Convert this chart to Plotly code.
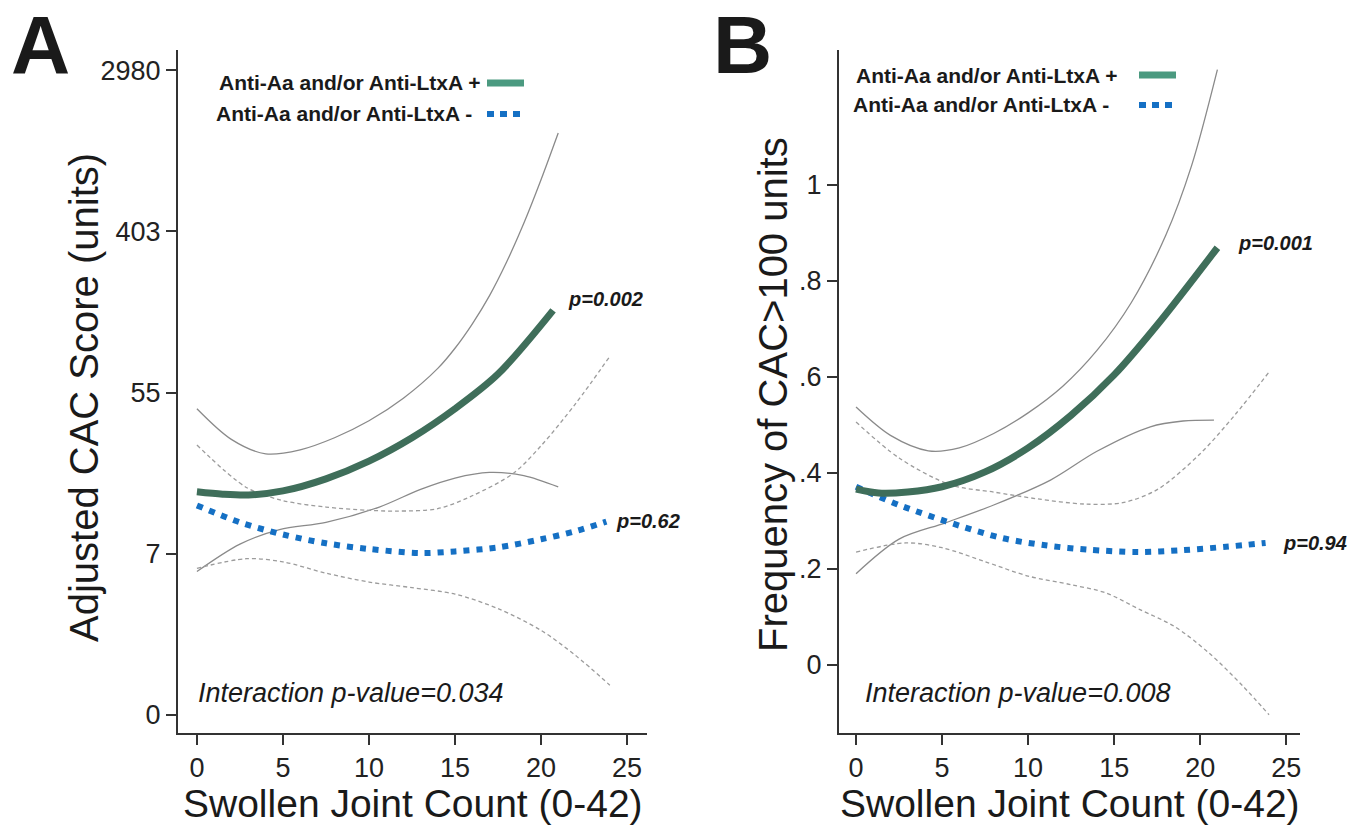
import plotly.graph_objects as go

# ---------------- data ----------------
# Panel A : ln(CAC+1) scale, tick labels in CAC units
a_pos_x = [0, 1.5, 3, 5, 7.5, 10, 12.5, 15, 17.5, 20.7]
a_pos_y = [2.77, 2.74, 2.73, 2.78, 2.93, 3.15, 3.44, 3.80, 4.23, 5.02]
a_pos_hi_x = [0, 2, 4, 6, 8, 10, 12, 14, 15, 16, 17, 18, 19, 20, 21]
a_pos_hi_y = [3.80, 3.42, 3.24, 3.29, 3.44, 3.65, 3.93, 4.30, 4.55, 4.85, 5.20, 5.62, 6.10, 6.64, 7.22]
a_pos_lo_x = [0, 2.5, 4.8, 7.5, 10.6, 13, 15, 17, 19, 21]
a_pos_lo_y = [1.78, 2.12, 2.30, 2.39, 2.58, 2.80, 2.94, 3.01, 2.97, 2.83]
a_neg_x = [0, 2.5, 5, 7.5, 10, 13, 15, 17.5, 20, 22, 23.8]
a_neg_y = [2.60, 2.39, 2.24, 2.13, 2.06, 2.01, 2.03, 2.08, 2.18, 2.28, 2.40]
a_neg_hi_x = [0, 2.9, 5, 7.5, 10, 11.6, 14, 16, 18.4, 20, 22, 24]
a_neg_hi_y = [3.35, 2.82, 2.66, 2.58, 2.54, 2.53, 2.56, 2.72, 3.00, 3.34, 3.86, 4.45]
a_neg_lo_x = [0, 2.9, 5, 7.5, 10, 12.5, 15, 17.5, 20, 22, 24]
a_neg_lo_y = [1.82, 1.94, 1.90, 1.76, 1.65, 1.58, 1.50, 1.32, 1.05, 0.74, 0.37]
a_tickvals = [0, 2, 4, 6, 8]
a_ticktext = ["0", "7", "55", "403", "2980"]

# Panel B : frequency of CAC>100
b_pos_x = [0, 1.3, 3, 5, 7.5, 10, 12.5, 15, 17.5, 21]
b_pos_y = [0.366, 0.358, 0.360, 0.371, 0.402, 0.452, 0.520, 0.604, 0.708, 0.869]
b_pos_hi_x = [0, 2, 4.2, 6, 8, 10, 12, 14, 16, 18, 19.5, 21]
b_pos_hi_y = [0.537, 0.478, 0.446, 0.452, 0.482, 0.525, 0.580, 0.655, 0.755, 0.895, 1.04, 1.24]
b_pos_lo_x = [0, 2.5, 5.2, 8, 11.3, 14, 17.1, 19, 20.8]
b_pos_lo_y = [0.190, 0.262, 0.296, 0.333, 0.385, 0.445, 0.496, 0.508, 0.510]
b_neg_x = [0, 2.5, 6, 8.5, 11, 13.5, 16.4, 19, 21.5, 23.8]
b_neg_y = [0.371, 0.333, 0.290, 0.264, 0.249, 0.240, 0.235, 0.239, 0.246, 0.254]
b_neg_hi_x = [0, 2.5, 5.5, 8, 10.5, 13.3, 15.5, 17.5, 20, 22, 24]
b_neg_hi_y = [0.506, 0.431, 0.375, 0.360, 0.346, 0.335, 0.338, 0.365, 0.44, 0.52, 0.61]
b_neg_lo_x = [0, 2.9, 5, 7.5, 10, 12.5, 14.5, 16.5, 18.5, 20.5, 22.5, 24]
b_neg_lo_y = [0.235, 0.254, 0.244, 0.215, 0.185, 0.167, 0.150, 0.115, 0.08, 0.025, -0.045, -0.104]
b_tickvals = [0, 0.2, 0.4, 0.6, 0.8, 1.0]
b_ticktext = ["0", ".2", ".4", ".6", ".8", "1"]

x_tickvals = [0, 5, 10, 15, 20, 25]

legend_pos = "Anti-Aa and/or Anti-LtxA +"
legend_neg = "Anti-Aa and/or Anti-LtxA -"
a_p_pos, a_p_neg, a_p_int = "p=0.002", "p=0.62", "Interaction p-value=0.034"
b_p_pos, b_p_neg, b_p_int = "p=0.001", "p=0.94", "Interaction p-value=0.008"

# ---------------- styling ----------------
W, H = 1360, 825
FONT = "Liberation Sans, Arial, sans-serif"
GREEN = "#3f6e5a"
GREEN_LEG = "#4b9a80"
BLUE = "#1570c4"
CI_SOLID = "#8a8a8a"
CI_DASH = "#9c9c9c"
AXC = "#333333"


def px(x):
    return x / W


def py(y):
    return 1 - y / H


fig = go.Figure()


def add_panel(xa, ya, pos, pos_hi, pos_lo, neg, neg_hi, neg_lo):
    common = dict(xaxis=xa, yaxis=ya, mode="lines", line_shape="spline",
                  showlegend=False, hoverinfo="skip")
    for (xs, ys) in (pos_hi, pos_lo):
        fig.add_trace(go.Scatter(x=xs, y=ys, line=dict(color=CI_SOLID, width=1.3, smoothing=0.9), **common))
    for (xs, ys) in (neg_hi, neg_lo):
        fig.add_trace(go.Scatter(x=xs, y=ys, line=dict(color=CI_DASH, width=1.3, dash="4px,3px", smoothing=0.9), **common))
    fig.add_trace(go.Scatter(x=neg[0], y=neg[1], line=dict(color=BLUE, width=6, dash="6px,7px", smoothing=0.9), **common))
    fig.add_trace(go.Scatter(x=pos[0], y=pos[1], line=dict(color=GREEN, width=7, smoothing=0.9), **common))


add_panel("x", "y", (a_pos_x, a_pos_y), (a_pos_hi_x, a_pos_hi_y), (a_pos_lo_x, a_pos_lo_y),
          (a_neg_x, a_neg_y), (a_neg_hi_x, a_neg_hi_y), (a_neg_lo_x, a_neg_lo_y))
add_panel("x2", "y2", (b_pos_x, b_pos_y), (b_pos_hi_x, b_pos_hi_y), (b_pos_lo_x, b_pos_lo_y),
          (b_neg_x, b_neg_y), (b_neg_hi_x, b_neg_hi_y), (b_neg_lo_x, b_neg_lo_y))

axis_common = dict(showgrid=False, zeroline=False, showline=True, linecolor=AXC, linewidth=2,
                   ticks="outside", ticklen=10, tickwidth=1.5, tickcolor=AXC,
                   tickfont=dict(family=FONT, size=27, color="#222"))

ydom = [py(733), py(50)]
fig.update_layout(
    width=W, height=H, margin=dict(l=0, r=0, t=0, b=0),
    paper_bgcolor="white", plot_bgcolor="white",
    xaxis=dict(domain=[px(178), px(647)], range=[-1.10, 26.16], tickvals=x_tickvals,
               anchor="y", **axis_common),
    yaxis=dict(domain=ydom, range=[-0.223, 8.25], tickvals=a_tickvals, ticktext=a_ticktext,
               anchor="x", **axis_common),
    xaxis2=dict(domain=[px(839), px(1300)], range=[-0.99, 25.8], tickvals=x_tickvals,
                anchor="y2", **axis_common),
    yaxis2=dict(domain=ydom, range=[-0.142, 1.281], tickvals=b_tickvals, ticktext=b_ticktext,
                anchor="x2", **axis_common),
)

ann = []


def text(x, y, s, size, xanchor="center", angle=0, color="#1a1a1a"):
    ann.append(dict(x=px(x), y=py(y), xref="paper", yref="paper", text=s, showarrow=False,
                    xanchor=xanchor, yanchor="middle", textangle=angle,
                    font=dict(family=FONT, size=size, color=color)))


# panel letters
text(40, 44, "<b>A</b>", 82)
text(743, 44, "<b>B</b>", 82)
# axis titles
text(84, 398, "Adjusted CAC Score (units)", 40, angle=-90)
text(773, 395, "Frequency of CAC&gt;100 units", 40, angle=-90)
text(413, 803, "Swollen Joint Count (0-42)", 39)
text(1070, 803, "Swollen Joint Count (0-42)", 39)
# legends
text(483, 83, "<b>" + legend_pos + "</b>", 21, xanchor="right")
text(474, 113, "<b>" + legend_neg + "</b>", 21, xanchor="right")
text(1120, 75, "<b>" + legend_pos + "</b>", 21, xanchor="right")
text(1111, 105, "<b>" + legend_neg + "</b>", 21, xanchor="right")
# p values
text(566, 299, "<b><i>" + a_p_pos + "</i></b>", 20, xanchor="left")
text(614, 521, "<b><i>" + a_p_neg + "</i></b>", 20, xanchor="left")
text(1236, 243, "<b><i>" + b_p_pos + "</i></b>", 20, xanchor="left")
text(1281, 543, "<b><i>" + b_p_neg + "</i></b>", 20, xanchor="left")
text(196, 693, "<i>" + a_p_int + "</i>", 27, xanchor="left")
text(863, 693, "<i>" + b_p_int + "</i>", 27, xanchor="left")
fig.update_layout(annotations=ann)

# legend samples
shapes = []
for (x0, x1, y0, y1) in ((487, 524, 83, 114), (1139, 1176, 75, 105)):
    shapes.append(dict(type="line", xref="paper", yref="paper", x0=px(x0), x1=px(x1),
                       y0=py(y0), y1=py(y0), line=dict(color=GREEN_LEG, width=7)))
    shapes.append(dict(type="line", xref="paper", yref="paper", x0=px(x0), x1=px(x1),
                       y0=py(y1), y1=py(y1), line=dict(color=BLUE, width=6, dash="7px,6px")))
fig.update_layout(shapes=shapes)

fig.write_html("out.html", config={"displayModeBar": False},
               post_script="document.body.style.margin='0';")
